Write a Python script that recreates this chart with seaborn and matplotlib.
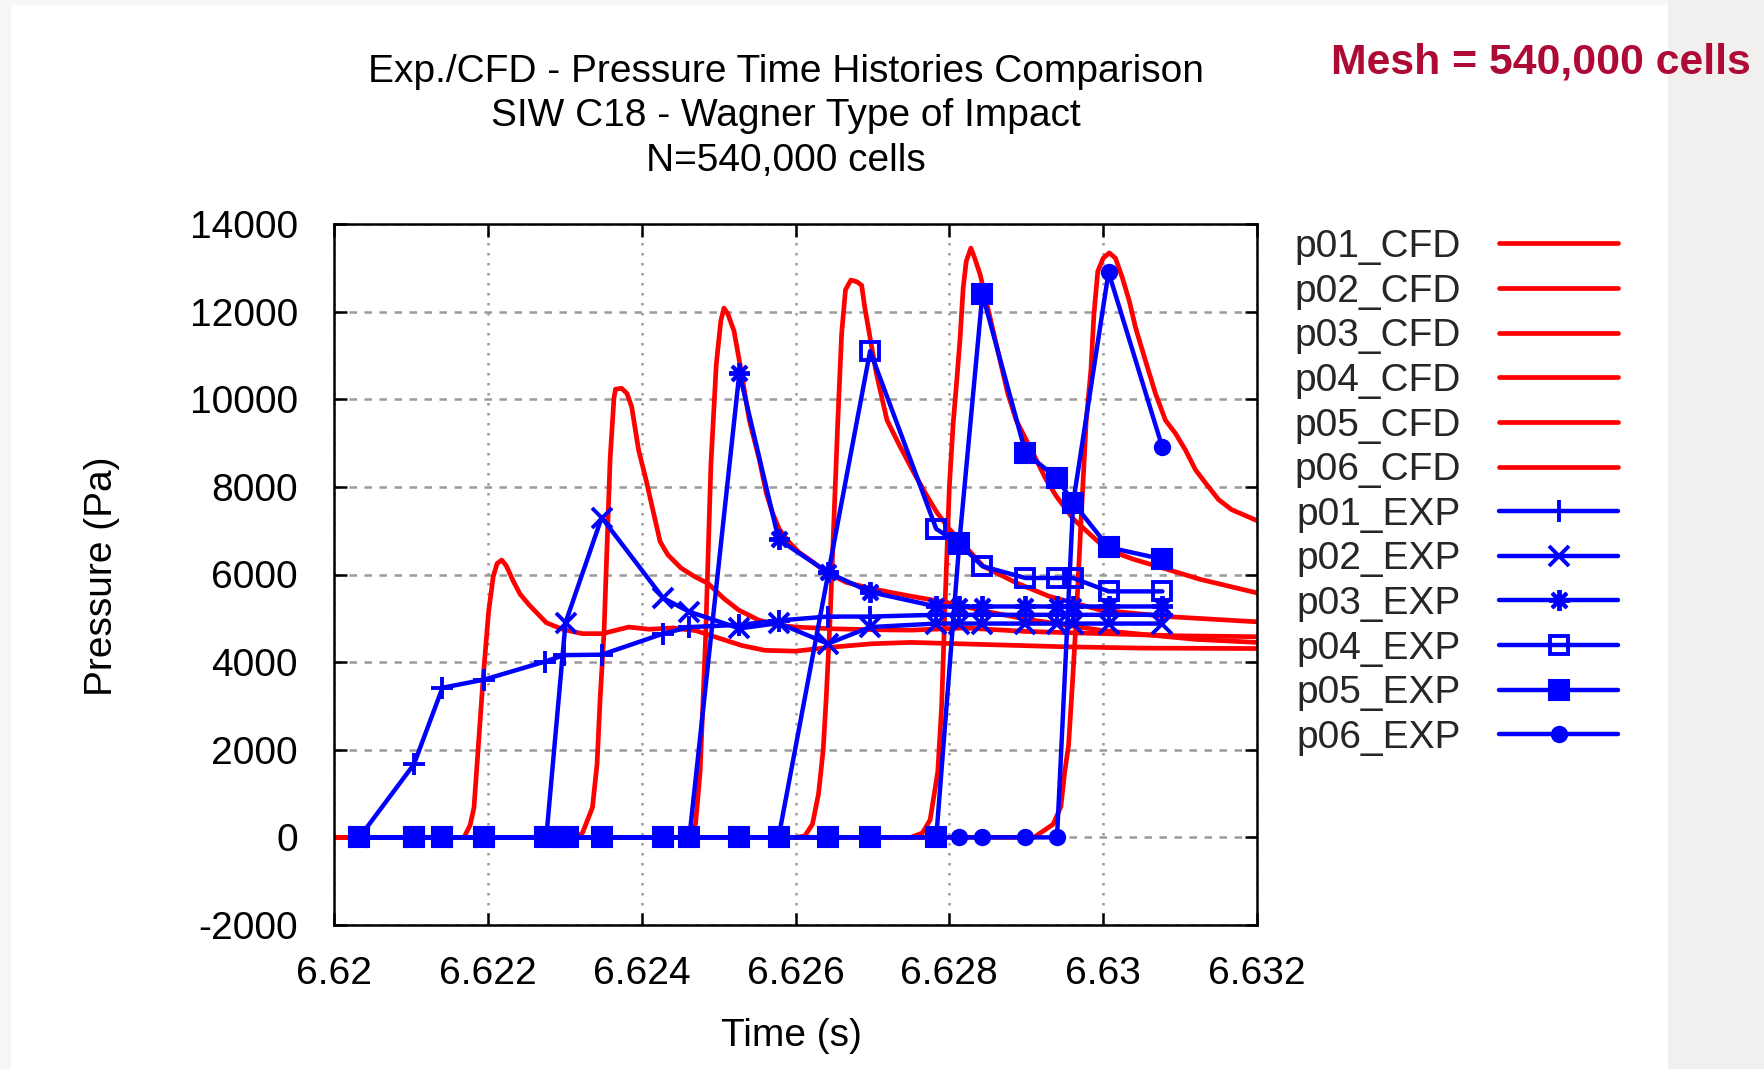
import matplotlib
matplotlib.use("Agg")
import matplotlib.pyplot as plt
from matplotlib.patches import Rectangle
import seaborn as sns
import pandas as pd

# ---------------- data ----------------
p01_cfd_t = [6.6200, 6.62169, 6.62177, 6.62182, 6.62188, 6.62194, 6.62201, 6.62207, 6.62212, 6.62218,
             6.62224, 6.62233, 6.62242, 6.62254, 6.62276, 6.62297, 6.62323, 6.62349, 6.62383, 6.6241,
             6.6244, 6.6247, 6.6250, 6.6253, 6.6256, 6.6260, 6.6264, 6.6270, 6.6275, 6.6285, 6.6295,
             6.6305, 6.632]
p01_cfd_p = [0, 0, 280, 680, 2170, 3660, 5150, 5950, 6250, 6330,
             6200, 5850, 5550, 5300, 4900, 4750, 4650, 4650, 4800, 4750,
             4780, 4720, 4550, 4380, 4270, 4250, 4330, 4420, 4450, 4400, 4350,
             4320, 4310]

p02_cfd_t = [6.6200, 6.62314, 6.62323, 6.62336, 6.62342, 6.62346, 6.62351, 6.62355, 6.62359, 6.62364,
             6.62366, 6.62374, 6.62381, 6.62387, 6.62396, 6.62406, 6.62415, 6.62424, 6.62434, 6.62451,
             6.62469, 6.62486, 6.62507, 6.62526, 6.62552, 6.62574, 6.6260, 6.6265, 6.6270, 6.6275,
             6.6282, 6.629, 6.630, 6.631, 6.632]
p02_cfd_p = [0, 0, 100, 680, 1670, 3160, 4660, 6650, 8640, 10030,
             10230, 10250, 10130, 9830, 8840, 8140, 7440, 6750, 6450, 6150,
             5950, 5800, 5450, 5190, 4960, 4850, 4800, 4760, 4740, 4730,
             4780, 4700, 4650, 4600, 4580]

p03_cfd_t = [6.6200, 6.62462, 6.62470, 6.62476, 6.62483, 6.62490, 6.62497, 6.62503, 6.62507, 6.62512,
             6.6252, 6.62527, 6.6254, 6.62553, 6.62562, 6.6257, 6.62579, 6.62592, 6.62605, 6.62623,
             6.6264, 6.62666, 6.62701, 6.62745, 6.628, 6.6285, 6.629, 6.6295, 6.630, 6.6306,
             6.6312, 6.632]
p03_cfd_p = [0, 0, 300, 1500, 4500, 8500, 10800, 11800, 12080, 11950,
             11560, 10880, 9520, 8620, 7860, 7410, 7030, 6730, 6500, 6280,
             6050, 5820, 5670, 5520, 5350, 5150, 4980, 4850, 4720, 4620,
             4520, 4450]

p04_cfd_t = [6.6200, 6.6260, 6.62612, 6.62622, 6.6263, 6.62636, 6.6264, 6.62645, 6.6265, 6.62655,
             6.6266, 6.62665, 6.62672, 6.6268, 6.62686, 6.6269, 6.62697, 6.62705, 6.62719, 6.62736,
             6.62754, 6.62771, 6.62784, 6.628, 6.62844, 6.62887, 6.6293, 6.62996, 6.63083, 6.632]
p04_cfd_p = [0, 0, 30, 300, 1000, 2000, 3200, 5000, 7270, 9500,
             11500, 12500, 12720, 12680, 12600, 12100, 11400, 10600, 9520, 8920,
             8320, 7790, 7410, 7040, 6190, 5810, 5500, 5190, 5040, 4920]

p05_cfd_t = [6.6200, 6.6275, 6.62765, 6.62775, 6.62785, 6.6279, 6.62795, 6.628, 6.62805, 6.6281,
             6.62814, 6.62818, 6.62822, 6.62828, 6.62833, 6.6284, 6.62846, 6.62855, 6.62866, 6.62876,
             6.62887, 6.629, 6.62913, 6.62926, 6.62939, 6.62952, 6.62961, 6.63004, 6.63039, 6.63083,
             6.63126, 6.632]
p05_cfd_p = [0, 0, 100, 400, 1500, 3000, 5600, 8000, 9450, 10500,
             11400, 12540, 13150, 13450, 13220, 12850, 12390, 11710, 10880, 10130,
             9520, 9070, 8620, 8160, 7790, 7480, 7270, 6580, 6350, 6120,
             5890, 5580]

p06_cfd_t = [6.6200, 6.6291, 6.62935, 6.62945, 6.6295, 6.62955, 6.6296, 6.62965, 6.62972, 6.62978,
             6.62984, 6.62988, 6.62993, 6.6300, 6.63008, 6.63016, 6.63025, 6.63034, 6.63042, 6.63055,
             6.63068, 6.63081, 6.63094, 6.63107, 6.6312, 6.63133, 6.6315, 6.63167, 6.632]
p06_cfd_p = [0, 0, 300, 700, 1500, 2100, 3500, 5000, 7500, 9520,
             10650, 11940, 12920, 13220, 13340, 13220, 12770, 12240, 11640, 10880,
             10130, 9520, 9220, 8840, 8390, 8090, 7710, 7480, 7230]

p01_exp_t = [6.62033, 6.62104, 6.62141, 6.62195, 6.62274, 6.62299, 6.62348, 6.62428, 6.62462, 6.62527,
             6.62578, 6.62642, 6.62697, 6.62783, 6.62813, 6.62843, 6.62899, 6.62940, 6.62961, 6.63007,
             6.63077]
p01_exp_p = [0, 1670, 3415, 3600, 4010, 4160, 4170, 4650, 4800, 4850,
             4950, 5040, 5040, 5080, 5080, 5080, 5080, 5080, 5080, 5080,
             5080]

p02_exp_t = [6.62033, 6.62104, 6.62141, 6.62195, 6.62276, 6.62301, 6.62348, 6.62428, 6.62462, 6.62527,
             6.62578, 6.62642, 6.62697, 6.62783, 6.62813, 6.62843, 6.62899, 6.62940, 6.62961, 6.63007,
             6.63077]
p02_exp_p = [0, 0, 0, 0, 0, 4900, 7300, 5460, 5150, 4770,
             4890, 4420, 4800, 4880, 4880, 4880, 4880, 4880, 4880, 4880,
             4880]

p03_exp_t = [6.62033, 6.62104, 6.62141, 6.62195, 6.62276, 6.62348, 6.62428, 6.62462, 6.62527, 6.62578,
             6.62642, 6.62697, 6.62783, 6.62813, 6.62843, 6.62899, 6.62940, 6.62961, 6.63007, 6.63077]
p03_exp_p = [0, 0, 0, 0, 0, 0, 0, 0, 10600, 6800,
             6050, 5600, 5270, 5270, 5270, 5270, 5270, 5270, 5270, 5270]

p04_exp_t = [6.62033, 6.62104, 6.62141, 6.62195, 6.62276, 6.62348, 6.62428, 6.62462, 6.62527, 6.62578,
             6.62697, 6.62783, 6.62813, 6.62843, 6.62899, 6.62940, 6.62961, 6.63007, 6.63077]
p04_exp_p = [0, 0, 0, 0, 0, 0, 0, 0, 0, 0,
             11100, 7040, 6700, 6190, 5920, 5920, 5920, 5615, 5615]

p05_exp_t = [6.62033, 6.62104, 6.62141, 6.62195, 6.62274, 6.62290, 6.62304, 6.62348, 6.62428, 6.62462,
             6.62527, 6.62578, 6.62642, 6.62697, 6.62783, 6.62813, 6.62843, 6.62899, 6.62940, 6.62961,
             6.63007, 6.63077]
p05_exp_p = [0, 0, 0, 0, 0, 0, 0, 0, 0, 0,
             0, 0, 0, 0, 0, 6730, 12400, 8780, 8200, 7640,
             6620, 6350]

p06_exp_t = [6.62033, 6.62104, 6.62141, 6.62195, 6.62276, 6.62348, 6.62428, 6.62462, 6.62527, 6.62578,
             6.62642, 6.62697, 6.62783, 6.62813, 6.62843, 6.62899, 6.62940, 6.62961, 6.63007, 6.63077]
p06_exp_p = [0, 0, 0, 0, 0, 0, 0, 0, 0, 0,
             0, 0, 0, 0, 0, 0, 0, 7640, 12900, 8900]

x_ticks = [6.620, 6.622, 6.624, 6.626, 6.628, 6.630, 6.632]
x_tick_labels = ["6.62", "6.622", "6.624", "6.626", "6.628", "6.63", "6.632"]
y_ticks = [-2000, 0, 2000, 4000, 6000, 8000, 10000, 12000, 14000]
y_tick_labels = ["-2000", "0", "2000", "4000", "6000", "8000", "10000", "12000", "14000"]

title_lines = ["Exp./CFD - Pressure Time Histories Comparison",
               "SIW C18 - Wagner Type of Impact",
               "N=540,000 cells"]
x_label = "Time (s)"
y_label = "Pressure (Pa)"
mesh_note = "Mesh = 540,000 cells"

cfd_series = [("p01_CFD", p01_cfd_t, p01_cfd_p), ("p02_CFD", p02_cfd_t, p02_cfd_p),
              ("p03_CFD", p03_cfd_t, p03_cfd_p), ("p04_CFD", p04_cfd_t, p04_cfd_p),
              ("p05_CFD", p05_cfd_t, p05_cfd_p), ("p06_CFD", p06_cfd_t, p06_cfd_p)]
exp_series = [("p01_EXP", p01_exp_t, p01_exp_p), ("p02_EXP", p02_exp_t, p02_exp_p),
              ("p03_EXP", p03_exp_t, p03_exp_p), ("p04_EXP", p04_exp_t, p04_exp_p),
              ("p05_EXP", p05_exp_t, p05_exp_p), ("p06_EXP", p06_exp_t, p06_exp_p)]

# ---------------- style ----------------
sns.set_theme(style="white")
plt.rcParams["font.family"] = ["Liberation Sans", "DejaVu Sans"]
plt.rcParams["axes.unicode_minus"] = False

RED = "#ff0000"
BLUE = "#0000ff"
FS = 28

W, H = 1764, 1069
fig = plt.figure(figsize=(W / 100, H / 100), dpi=100)
fig.patch.set_facecolor("#f6f6f6")
fig.add_artist(Rectangle((1668 / W, 0), (W - 1668) / W, 1, transform=fig.transFigure,
                         facecolor="#f1f0ef", edgecolor="none", zorder=-3))
fig.add_artist(Rectangle((11 / W, 0), (1668 - 11) / W, 1 - 5 / H, transform=fig.transFigure,
                         facecolor="white", edgecolor="none", zorder=-2))

ax = fig.add_axes([334 / W, 1 - 925 / H, (1257 - 334) / W, (925 - 224) / H])
ax.set_facecolor("white")

for name, t, p in cfd_series:
    df = pd.DataFrame({"t": t, "p": p})
    sns.lineplot(data=df, x="t", y="p", ax=ax, color=RED, lw=3.4, sort=False,
                 estimator=None, label=name, zorder=2)

marker_styles = {
    "p01_EXP": dict(marker="+", ms=16, mew=2.8, mfc=BLUE),
    "p02_EXP": dict(marker="x", ms=14, mew=2.8, mfc=BLUE),
    "p03_EXP": dict(marker=(8, 2, 0), ms=15, mew=2.8, mfc=BLUE),
    "p04_EXP": dict(marker="s", ms=13, mew=2.8, mfc="none"),
    "p05_EXP": dict(marker="s", ms=14, mew=1.5, mfc=BLUE),
    "p06_EXP": dict(marker="o", ms=11, mew=1.5, mfc=BLUE),
}
for name, t, p in exp_series:
    df = pd.DataFrame({"t": t, "p": p})
    st = marker_styles[name]
    sns.lineplot(data=df, x="t", y="p", ax=ax, color=BLUE, lw=3.2, sort=False,
                 estimator=None, label=name, marker=st["marker"], ms=st["ms"],
                 mew=st["mew"], mec=BLUE, mfc=st["mfc"], zorder=3)

ax.set_xlim(6.620, 6.632)
ax.set_ylim(-2000, 14000)
ax.set_xticks(x_ticks)
ax.set_xticklabels(x_tick_labels)
ax.set_yticks(y_ticks)
ax.set_yticklabels(y_tick_labels)

ax.grid(True, axis="x", color="#9a9a9a", lw=1.8, linestyle=(0, (1, 3)))
ax.grid(True, axis="y", color="#9a9a9a", lw=1.8, linestyle=(0, (3, 3)))
ax.set_axisbelow(True)

for s in ax.spines.values():
    s.set_color("black")
    s.set_linewidth(1.8)

ax.tick_params(axis="both", which="major", direction="in", length=9, width=1.8,
               top=True, right=True, bottom=True, left=True, labelsize=FS, colors="black")
ax.tick_params(axis="x", pad=22)
ax.tick_params(axis="y", pad=26)

ax.set_xlabel(x_label, fontsize=FS, color="black")
ax.set_ylabel(y_label, fontsize=FS, color="black")
ax.xaxis.set_label_coords((791 - 334) / 923, -(1018 - 925) / 701)
ax.yaxis.set_label_coords(-(334 - 120) / 923, (925 - 576) / 701)

for i, line in enumerate(title_lines):
    fig.text(786 / W, 1 - (71.5 + 44.5 * i) / H, line, ha="center", va="center",
             fontsize=FS, color="black")

fig.text(1331 / W, 1 - 62 / H, mesh_note, ha="left", va="center", fontsize=30.8,
         fontweight="bold", color="#ad0a35", family=["Liberation Sans", "DejaVu Sans"])

handles, labels = ax.get_legend_handles_labels()
leg = ax.legend(handles, labels, loc="upper left", bbox_to_anchor=(1294 / W, 1 - 229 / H),
                bbox_transform=fig.transFigure, frameon=False, markerfirst=False,
                fontsize=FS, handlelength=3.05, handletextpad=1.0, labelspacing=0.222,
                borderpad=0, borderaxespad=0, numpoints=1)

fig.savefig("out.png", dpi=100, facecolor=fig.get_facecolor())
